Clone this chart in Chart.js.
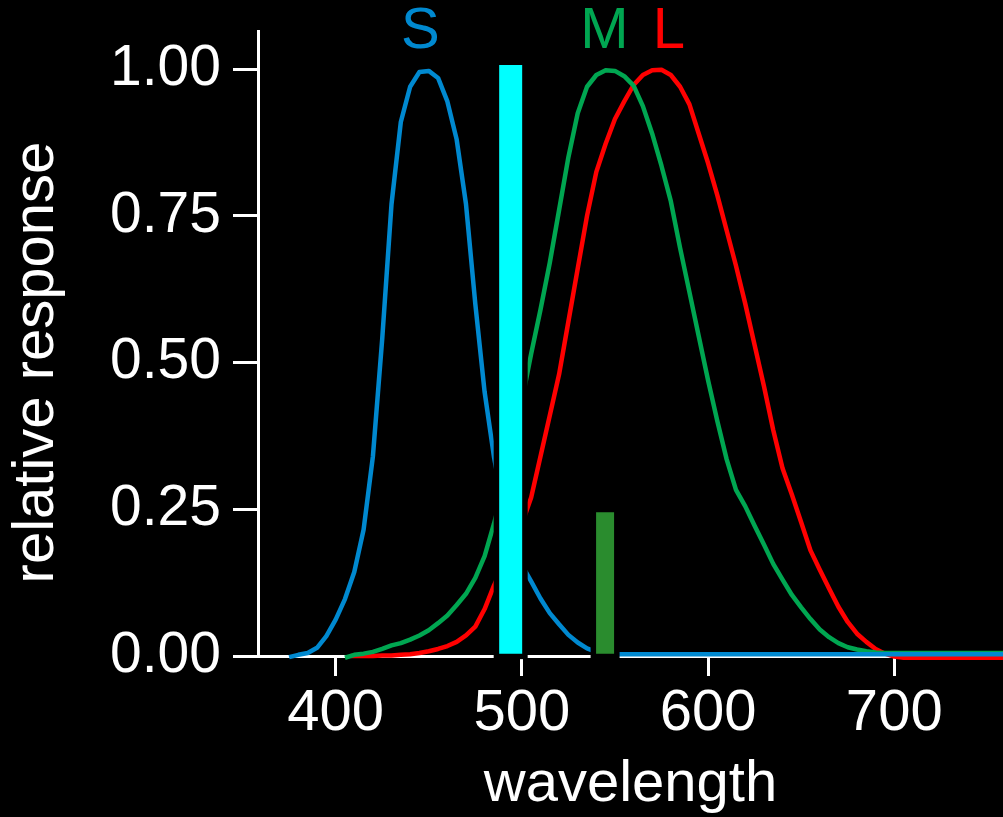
<!DOCTYPE html>
<html><head><meta charset="utf-8">
<script src="https://cdn.jsdelivr.net/npm/chart.js@4.4.1/dist/chart.umd.min.js"></script>
<style>html,body{margin:0;padding:0;background:#000;overflow:hidden}canvas{display:block}</style>
</head><body>
<canvas id="c" width="1003" height="817"></canvas>
<script>
// ---- data ----
const xTicks = [400, 500, 600, 700];
const xTickLabels = ['400', '500', '600', '700'];
const yTicks = [0, 0.25, 0.5, 0.75, 1];
const yTickLabels = ['0.00', '0.25', '0.50', '0.75', '1.00'];
const xTitle = 'wavelength';
const yTitle = 'relative response';

const sWave = [375,380,385,390,395,400,405,410,415,420,425,430,435,440,445,450,455,460,465,470,475,480,485,490,495,500,505,510,515,520,525,530,535,540,545,550,760];
const sResp = [-0.002,0.002,0.005,0.014,0.034,0.062,0.097,0.143,0.215,0.34,0.54,0.77,0.91,0.97,0.995,0.997,0.985,0.945,0.88,0.77,0.6,0.45,0.34,0.255,0.19,0.155,0.127,0.098,0.073,0.054,0.036,0.023,0.013,0.007,0.004,0.003,0.003];

const mWave = [405,410,415,420,425,430,435,440,445,450,455,460,465,470,475,480,485,490,495,500,505,510,515,520,525,530,535,540,545,550,555,560,565,570,575,580,585,590,595,600,605,610,615,620,625,630,635,640,645,650,655,660,665,670,675,680,685,690,695,760];
const mResp = [-0.003,0.002,0.004,0.007,0.012,0.018,0.022,0.028,0.035,0.044,0.056,0.069,0.087,0.106,0.133,0.17,0.225,0.285,0.355,0.435,0.515,0.59,0.67,0.76,0.85,0.925,0.97,0.99,0.998,0.997,0.988,0.972,0.937,0.89,0.835,0.775,0.695,0.62,0.545,0.47,0.40,0.335,0.283,0.255,0.222,0.19,0.157,0.13,0.104,0.083,0.063,0.045,0.032,0.022,0.015,0.011,0.008,0.006,0.005,0.005];

const lWave = [408,415,420,425,430,435,440,445,450,455,460,465,470,475,480,485,490,495,500,505,510,515,520,525,530,535,540,545,550,555,560,565,570,575,580,585,590,595,600,605,610,615,620,625,630,635,640,645,650,655,660,665,670,675,680,685,690,695,700,705,760];
const lResp = [0.0,0.0,0.0,0.001,0.001,0.002,0.003,0.005,0.008,0.012,0.017,0.024,0.035,0.05,0.08,0.12,0.155,0.19,0.225,0.27,0.34,0.41,0.48,0.57,0.66,0.75,0.825,0.873,0.915,0.945,0.973,0.99,0.998,0.999,0.99,0.97,0.94,0.89,0.84,0.785,0.725,0.665,0.60,0.53,0.46,0.385,0.32,0.275,0.228,0.18,0.147,0.115,0.084,0.058,0.038,0.024,0.012,0.004,-0.001,-0.003,-0.003];

const barWave = [494, 544.7];
const barBottom = [0.004, 0.004];
const barTop = [1.007, 0.245];

const coneNames = ['S', 'M', 'L'];
const coneNameX = [445.5, 544.3, 579];
const coneNameY = [1.063, 1.063, 1.063];

// ---- styles ----
const FONT = '"Liberation Sans", Arial, Helvetica, sans-serif';
const C_S = '#0089d0', C_M = '#00a651', C_L = '#ff0000';
const C_BAR = ['#00ffff', '#2a8c2e'];
const BAR_W = [23, 18];
const HALO = 5.5;
const nameColors = [C_S, C_M, C_L];
const Y_TITLE_X = 36.8;

function pts(xs, ys) { return xs.map((x, i) => ({x: x, y: ys[i]})); }

const lineBase = {type: 'line', borderWidth: 4.5, pointRadius: 0, tension: 0, fill: false, clip: false, order: 2, borderJoinStyle: 'round'};

const datasets = [
  Object.assign({label: 'S', data: pts(sWave, sResp), borderColor: C_S}, lineBase),
  Object.assign({label: 'M', data: pts(mWave, mResp), borderColor: C_M}, lineBase),
  Object.assign({label: 'L', data: pts(lWave, lResp), borderColor: C_L}, lineBase),
];
barWave.forEach((w, i) => {
  datasets.push({
    type: 'bar', label: 'bar' + i,
    data: [{x: w, y: [barBottom[i], barTop[i]]}],
    backgroundColor: C_BAR[i], borderWidth: 0, grouped: false,
    maxBarThickness: BAR_W[i], order: 0
  });
});

const haloPlugin = {
  id: 'barHalo',
  beforeDatasetDraw(chart, args) {
    const meta = args.meta;
    if (meta.type !== 'bar') return;
    const ctx = chart.ctx;
    ctx.save();
    ctx.fillStyle = '#000';
    meta.data.forEach(el => {
      const p = el.getProps(['x', 'y', 'base', 'width'], true);
      const top = Math.min(p.y, p.base), bot = Math.max(p.y, p.base);
      ctx.fillRect(p.x - p.width / 2 - HALO, top - HALO, p.width + 2 * HALO, bot - top + 2 * HALO);
    });
    ctx.restore();
  }
};

const textPlugin = {
  id: 'extraText',
  afterDatasetsDraw(chart) {
    const ctx = chart.ctx, xs = chart.scales.x, ys = chart.scales.y;
    ctx.save();
    ctx.font = '58px ' + FONT;
    ctx.textAlign = 'center';
    ctx.textBaseline = 'middle';
    coneNames.forEach((t, i) => {
      ctx.fillStyle = nameColors[i];
      ctx.fillText(t, xs.getPixelForValue(coneNameX[i]), ys.getPixelForValue(coneNameY[i]));
    });
    // y-axis title, centred on the 0..1 tick range
    const yMid = ys.getPixelForValue((yTicks[0] + yTicks[yTicks.length - 1]) / 2);
    ctx.translate(Y_TITLE_X, yMid);
    ctx.rotate(-Math.PI / 2);
    ctx.fillStyle = '#ffffff';
    ctx.fillText(yTitle, 0, 0);
    ctx.restore();
  }
};

Chart.defaults.font.family = FONT;
Chart.defaults.color = '#ffffff';

new Chart(document.getElementById('c'), {
  type: 'line',
  data: {datasets: datasets},
  options: {
    responsive: false,
    devicePixelRatio: 1,
    animation: false,
    events: [],
    layout: {padding: {top: 31, left: 0, right: 0, bottom: 0}},
    plugins: {legend: {display: false}, tooltip: {enabled: false}},
    scales: {
      x: {
        type: 'linear', min: 358.3, max: 758.4, offset: false,
        afterBuildTicks: s => { s.ticks = xTicks.map(v => ({value: v})); },
        afterFit: s => { s.height = 161; s.paddingLeft = 0; s.paddingRight = 0; },
        ticks: {color: '#fff', font: {size: 58}, padding: 3, maxRotation: 0, autoSkip: false,
                callback: (v, i) => xTickLabels[i]},
        grid: {offset: false, drawOnChartArea: false, drawTicks: true, tickLength: 20, tickWidth: 3, tickColor: '#fff', color: '#fff'},
        border: {display: true, color: '#fff', width: 3},
        title: {display: true, text: xTitle, color: '#fff', font: {size: 58, lineHeight: 1.1}, padding: {top: 0, bottom: 0}}
      },
      y: {
        type: 'linear', min: 0, max: 1.065, offset: false,
        afterBuildTicks: s => { s.ticks = yTicks.map(v => ({value: v})); },
        afterFit: s => { s.width = 258; s.paddingTop = 0; s.paddingBottom = 0; },
        ticks: {color: '#fff', font: {size: 57}, padding: 12, autoSkip: false,
                callback: (v, i) => yTickLabels[i]},
        grid: {offset: false, drawOnChartArea: false, drawTicks: true, tickLength: 25, tickWidth: 3, tickColor: '#fff', color: '#fff'},
        border: {display: true, color: '#fff', width: 3},
        title: {display: false, text: yTitle}
      }
    }
  },
  plugins: [haloPlugin, textPlugin]
});
</script>
</body></html>
